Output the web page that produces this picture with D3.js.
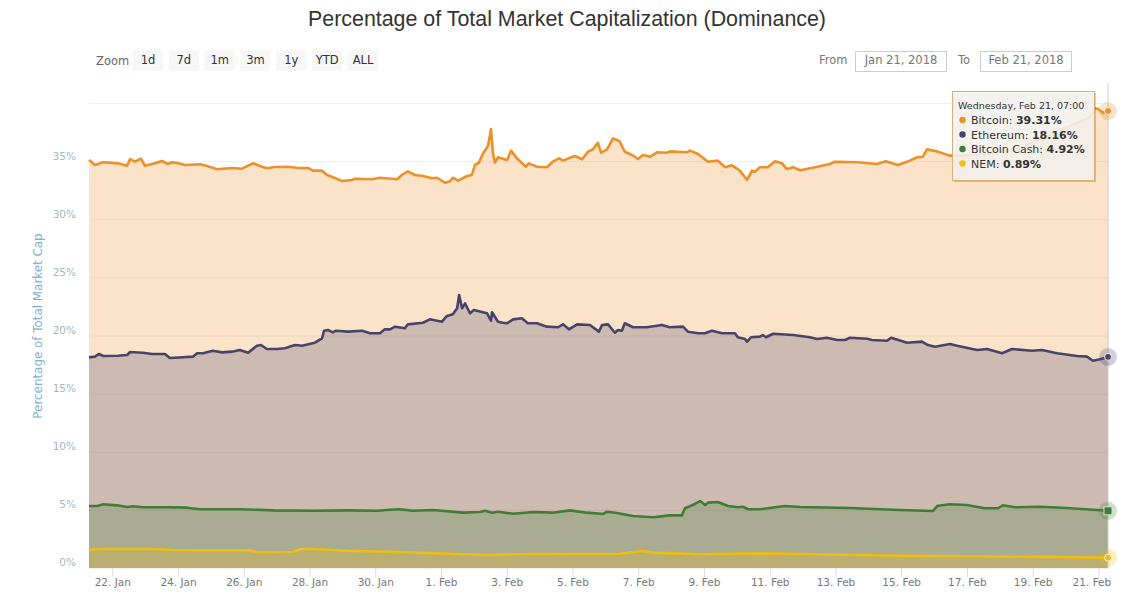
<!DOCTYPE html>
<html>
<head>
<meta charset="utf-8">
<title>Dominance</title>
<script src="https://cdn.jsdelivr.net/npm/d3@7"></script>
<style>
  html, body { margin: 0; padding: 0; background: #fff; }
  svg { display: block; }
  text { font-family: "DejaVu Sans", sans-serif; }
  .grid line { stroke: #e6e2dc; stroke-width: 1; stroke-opacity: 0.6; }
  .grid path, .ylabels path, .ylabels line { display: none; }
  .xaxis path { display: none; }
  .xaxis line { stroke: #d5dbe6; }
  .xaxis text { fill: #777; font-size: 10.5px; }
  .ylabels text { fill: #9fb6cc; font-size: 10.5px; }
</style>
</head>
<body>
<div id="chart"></div>
<script>
// values. days = days after Jan 21 07:00
const btcDays = [0,0.18,0.43,0.88,1.16,1.25,1.40,1.58,1.70,2.01,2.22,2.40,2.52,2.71,2.92,3.38,3.59,3.89,4.35,4.65,4.99,5.26,5.41,5.66,6.05,6.36,6.66,6.81,7.09,7.24,7.42,7.70,8.00,8.09,8.61,8.85,9.37,9.52,9.70,9.92,10.16,10.43,10.59,10.83,10.98,11.07,11.23,11.50,11.65,11.74,11.86,11.99,12.14,12.23,12.29,12.35,12.44,12.72,12.84,13.02,13.29,13.38,13.63,13.93,14.11,14.30,14.42,14.78,15.00,15.18,15.33,15.48,15.58,15.76,15.94,16.06,16.15,16.30,16.52,16.70,16.85,17.07,17.28,17.58,17.67,18.19,18.28,18.53,18.83,19.13,19.35,19.56,19.80,20.02,20.17,20.26,20.41,20.65,20.87,21.08,21.23,21.42,21.63,22.02,22.54,22.69,23.36,23.97,24.24,24.61,24.97,25.19,25.37,25.49,25.80,26.19,27.10,27.71,28.32,28.93,29.39,29.75,30.15,30.45,30.60,30.70,30.85,31];
const btcValues = [35.10,34.67,34.90,34.81,34.61,35.18,34.95,35.21,34.61,34.81,35.01,34.75,34.90,34.81,34.67,34.73,34.58,34.30,34.41,34.35,34.81,34.52,34.38,34.49,34.52,34.41,34.41,34.18,34.18,33.81,33.61,33.29,33.38,33.49,33.44,33.57,33.44,33.81,34.11,33.81,33.72,33.52,33.57,33.14,33.26,33.57,33.32,33.72,33.81,34.67,34.86,35.67,36.30,37.76,35.67,34.86,35.33,35.10,35.90,35.24,34.52,34.81,34.52,34.47,34.95,35.24,35.04,35.44,35.16,35.81,36.02,36.58,35.72,36.02,36.96,36.82,36.67,35.81,35.53,35.18,35.53,35.38,35.76,35.72,35.84,35.76,35.90,35.61,34.95,35.04,34.47,34.64,34.18,33.38,34.18,34.09,34.47,34.47,34.98,34.81,34.32,34.47,34.21,34.43,34.75,34.95,34.90,34.75,34.98,34.67,35.04,35.33,35.38,36.02,35.84,35.47,35.53,35.78,36.13,36.82,37.42,37.94,38.37,38.80,39.54,39.48,39.14,39.31];

const ethDays = [0,0.18,0.30,0.43,0.88,1.16,1.25,1.64,1.92,2.31,2.46,2.62,3.16,3.29,3.47,3.77,4.05,4.35,4.59,4.84,5.11,5.23,5.41,5.72,5.96,6.27,6.48,6.87,7.09,7.15,7.27,7.42,7.51,7.88,8.31,8.55,8.85,9.00,9.16,9.31,9.61,9.70,10.16,10.37,10.74,10.89,11.07,11.20,11.26,11.35,11.44,11.59,11.71,12.11,12.23,12.26,12.44,12.59,12.72,12.90,13.17,13.35,13.63,13.93,14.27,14.42,14.60,14.85,15.24,15.51,15.61,15.79,16.00,16.09,16.21,16.30,16.55,16.97,17.43,17.67,18.07,18.22,18.53,18.74,18.95,19.26,19.65,19.74,19.96,20.02,20.14,20.41,20.50,20.60,20.81,21.42,21.93,22.15,22.45,22.76,23.00,23.15,23.67,23.82,24.28,24.40,24.89,25.34,25.52,25.74,26.19,26.41,27.02,27.32,27.78,28.08,28.69,28.99,29.45,30.06,30.36,30.54,30.76,31];
const ethValues = [18.12,18.18,18.41,18.24,18.26,18.32,18.58,18.52,18.41,18.41,18.06,18.09,18.18,18.47,18.47,18.69,18.55,18.61,18.75,18.52,19.12,19.18,18.84,18.84,18.90,19.18,19.12,19.38,19.76,20.41,20.47,20.27,20.41,20.33,20.41,20.19,20.19,20.53,20.53,20.76,20.62,20.96,21.10,21.39,21.19,21.68,21.82,22.34,23.48,22.34,22.77,21.91,22.19,21.91,21.27,22.00,21.19,21.10,21.05,21.39,21.48,21.05,21.05,20.76,20.71,20.96,20.53,20.96,20.90,20.33,20.90,20.96,20.24,20.47,20.41,21.05,20.71,20.71,20.90,20.71,20.76,20.33,20.19,20.19,20.41,20.19,20.19,19.85,19.70,19.47,19.85,19.90,20.04,19.85,20.15,20.04,19.85,19.70,19.81,19.61,19.61,19.81,19.72,19.61,19.55,19.81,19.38,19.47,19.18,19.04,19.27,19.12,18.75,18.84,18.47,18.84,18.69,18.75,18.47,18.24,18.18,17.83,17.95,18.16];

const bchDays = [0,0.26,0.43,0.85,1.16,1.34,1.64,2.37,2.98,3.38,4.59,5.11,5.60,6.81,7.85,8.76,9.16,9.46,9.85,10.46,11.38,11.89,12.05,12.26,12.44,12.90,13.51,14.11,14.63,15.15,15.64,15.76,16.06,16.55,17.16,17.67,18.04,18.13,18.37,18.59,18.74,18.83,19.13,19.44,19.74,19.89,20.05,20.41,21.17,21.63,23.15,24.67,25.67,25.80,26.19,26.70,27.25,27.65,27.80,28.17,28.93,29.75,31];
const bchValues = [5.33,5.33,5.48,5.39,5.25,5.31,5.22,5.22,5.19,5.05,5.05,5.01,4.96,4.93,4.96,4.93,5.01,5.05,4.93,4.99,4.76,4.82,4.93,4.76,4.84,4.67,4.82,4.76,4.96,4.76,4.65,4.84,4.73,4.47,4.36,4.53,4.53,5.14,5.42,5.76,5.42,5.62,5.68,5.33,5.22,5.27,5.05,5.05,5.33,5.25,5.16,4.99,4.90,5.33,5.48,5.42,5.14,5.14,5.39,5.22,5.27,5.16,4.92];

const nemDays = [0,0.33,1.95,2.56,4.90,5.11,6.21,6.42,6.81,7.85,9.46,12.11,13.51,16.15,16.85,17.16,18.59,20.41,24.67,27.71,31];
const nemValues = [1.55,1.63,1.63,1.55,1.52,1.35,1.38,1.63,1.63,1.49,1.38,1.12,1.20,1.23,1.46,1.32,1.18,1.26,1.06,0.99,0.89];

const seriesNames = ["Bitcoin", "Ethereum", "Bitcoin Cash", "NEM"];
const seriesColors = ["#ec9028", "#47446a", "#3f7d36", "#f0bd12"];
const tooltipValues = ["39.31%", "18.16%", "4.92%", "0.89%"];

const gridPercents = [0, 5, 10, 15, 20, 25, 30, 35, 40];
const labelPercents = [0, 5, 10, 15, 20, 25, 30, 35];
const tickDates = ["2018-01-22","2018-01-24","2018-01-26","2018-01-28","2018-01-30","2018-02-01","2018-02-03","2018-02-05","2018-02-07","2018-02-09","2018-02-11","2018-02-13","2018-02-15","2018-02-17","2018-02-19","2018-02-21"];
const zoomButtons = ["1d", "7d", "1m", "3m", "1y", "YTD", "ALL"];
const chartTitle = "Percentage of Total Market Capitalization (Dominance)";
const yTitle = "Percentage of Total Market Cap";

const startTime = Date.UTC(2018, 0, 21, 7);
const endTime = Date.UTC(2018, 1, 21, 7);

function toSeries(days, values) {
  return days.map(function(d, i) {
    return { time: new Date(startTime + d * 864e5), value: values[i] };
  });
}
const allSeries = [
  toSeries(btcDays, btcValues),
  toSeries(ethDays, ethValues),
  toSeries(bchDays, bchValues),
  toSeries(nemDays, nemValues)
];

const svg = d3.select("#chart").append("svg").attr("width", 1133).attr("height", 600);

const plotLeft = 89, plotRight = 1108, plotTop = 103, plotBottom = 568;
const x = d3.scaleUtc().domain([new Date(startTime), new Date(endTime)]).range([plotLeft, plotRight]);
const y = d3.scaleLinear().domain([0, 40]).range([plotBottom, plotTop]);

// title
svg.append("text").attr("x", 567).attr("y", 26).attr("text-anchor", "middle")
  .style("font-family", '"Liberation Sans", Arial, sans-serif')
  .style("font-size", "21.4px").attr("fill", "#333").text(chartTitle);

// range selector
svg.append("text").attr("x", 96).attr("y", 65).attr("font-size", 11.5).attr("fill", "#666").text("Zoom");
const buttonX = d3.scalePoint().domain(zoomButtons).range([148, 363]);
const btn = svg.selectAll(".btn").data(zoomButtons).enter().append("g").attr("class", "btn");
btn.append("rect").attr("x", d => buttonX(d) - 15).attr("y", 50).attr("width", 30).attr("height", 21).attr("fill", "#f7f7f7");
btn.append("text").attr("x", d => buttonX(d)).attr("y", 64).attr("text-anchor", "middle")
  .attr("font-size", 11.5).attr("fill", "#333").text(d => d);

// from / to boxes
svg.append("text").attr("x", 819).attr("y", 64).attr("font-size", 11.5).attr("fill", "#777").text("From");
svg.append("text").attr("x", 958).attr("y", 64).attr("font-size", 11.5).attr("fill", "#777").text("To");
svg.append("rect").attr("x", 855.5).attr("y", 51.5).attr("width", 91).attr("height", 20).attr("fill", "#fff").attr("stroke", "#ccc");
svg.append("rect").attr("x", 980.5).attr("y", 51.5).attr("width", 91).attr("height", 20).attr("fill", "#fff").attr("stroke", "#ccc");
svg.append("text").attr("x", 901).attr("y", 64).attr("text-anchor", "middle").attr("font-size", 11.5).attr("fill", "#777").text("Jan 21, 2018");
svg.append("text").attr("x", 1026).attr("y", 64).attr("text-anchor", "middle").attr("font-size", 11.5).attr("fill", "#777").text("Feb 21, 2018");

// grid
svg.append("g").attr("class", "grid").attr("transform", "translate(" + plotLeft + ",0)")
  .call(d3.axisLeft(y).tickValues(gridPercents).tickSize(-(plotRight - plotLeft)).tickFormat(""));

// areas and lines, first series at the back
const area = d3.area().x(d => x(d.time)).y0(y(0)).y1(d => y(d.value));
const line = d3.line().x(d => x(d.time)).y(d => y(d.value));

allSeries.forEach(function(data, i) {
  svg.append("path").datum(data).attr("d", area).attr("fill", seriesColors[i]).attr("fill-opacity", 0.25);
});
allSeries.forEach(function(data, i) {
  svg.append("path").datum(data).attr("d", line).attr("fill", "none")
    .attr("stroke", seriesColors[i]).attr("stroke-width", 2.6).attr("stroke-linejoin", "round");
});

// crosshair
svg.append("line").attr("x1", x(new Date(endTime))).attr("x2", x(new Date(endTime)))
  .attr("y1", 83).attr("y2", plotBottom).attr("stroke", "#ccc");

// axes
const xaxis = svg.append("g").attr("class", "xaxis").attr("transform", "translate(0," + plotBottom + ")")
  .call(d3.axisBottom(x).tickValues(tickDates.map(d => new Date(d))).tickSize(9).tickPadding(2)
    .tickFormat(d3.utcFormat("%-d. %b")));
// last label gets pushed in from the edge
xaxis.selectAll(".tick:last-of-type text").attr("dx", -7);

const ylabels = svg.append("g").attr("class", "ylabels").attr("transform", "translate(76,0)")
  .call(d3.axisLeft(y).tickValues(labelPercents).tickSize(0).tickPadding(0).tickFormat(d => d + "%"));
ylabels.selectAll("text").attr("dy", "-0.2em");

svg.append("text").attr("transform", "translate(42,326) rotate(-90)").attr("text-anchor", "middle")
  .attr("font-size", 11.9).attr("fill", "#7fb1d6").text(yTitle);

// hover markers on the last point
allSeries.forEach(function(data, i) {
  const last = data[data.length - 1];
  const cx = x(last.time), cy = y(last.value);
  svg.append("circle").attr("cx", cx).attr("cy", cy).attr("r", 9).attr("fill", seriesColors[i]).attr("fill-opacity", 0.25);
  if (i == 2) {
    svg.append("rect").attr("x", cx - 4).attr("y", cy - 4).attr("width", 8).attr("height", 8)
      .attr("fill", seriesColors[i]).attr("stroke", "#cfe0c4").attr("stroke-width", 1);
  } else {
    svg.append("circle").attr("cx", cx).attr("cy", cy).attr("r", 3.5)
      .attr("fill", seriesColors[i]).attr("stroke", "#f5efe6").attr("stroke-width", 1);
  }
});

// tooltip
const tip = svg.append("g").attr("transform", "translate(952,91)");
tip.append("rect").attr("x", 2).attr("y", 2).attr("width", 142).attr("height", 89).attr("fill", "#000").attr("fill-opacity", 0.18);
tip.append("rect").attr("x", 0.5).attr("y", 0.5).attr("width", 142).attr("height", 89)
  .attr("fill", "#f8f6f1").attr("fill-opacity", 0.88).attr("stroke", "#dcae74");
tip.append("text").attr("x", 6).attr("y", 18).attr("font-size", 9.5).attr("fill", "#333").text("Wednesday, Feb 21, 07:00");
seriesNames.forEach(function(name, i) {
  const rowY = 29 + i * 14.5;
  tip.append("circle").attr("cx", 10.5).attr("cy", rowY).attr("r", 3.2).attr("fill", seriesColors[i]);
  const label = tip.append("text").attr("x", 19).attr("y", rowY + 4).attr("font-size", 11).attr("fill", "#333");
  label.append("tspan").text(name + ": ");
  label.append("tspan").attr("font-weight", "bold").text(tooltipValues[i]);
});
</script>
</body>
</html>
